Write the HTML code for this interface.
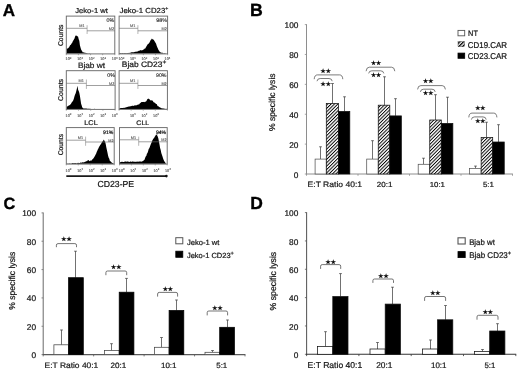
<!DOCTYPE html>
<html lang="en">
<head>
<meta charset="utf-8">
<title>Figure</title>
<style>
html,body{margin:0;padding:0;background:#fff;}
body{width:520px;height:374px;overflow:hidden;}
svg{display:block;font-family:"Liberation Sans", Arial, Helvetica, sans-serif;text-rendering:geometricPrecision;}
</style>
</head>
<body>
<svg width="520" height="374" viewBox="0 0 520 374" style="filter:blur(0.4px)">
<rect x="-5" y="-5" width="530" height="384" fill="#fff"/>
<text x="2.87" y="16.20" font-size="17.01" font-weight="bold" fill="#000" stroke="#000" stroke-width="0.35">A</text>
<text x="250.10" y="15.90" font-size="17.70" font-weight="bold" fill="#000" stroke="#000" stroke-width="0.35">B</text>
<text x="3.45" y="209.40" font-size="16.34" font-weight="bold" fill="#000" stroke="#000" stroke-width="0.35">C</text>
<text x="250.22" y="209.30" font-size="17.47" font-weight="bold" fill="#000" stroke="#000" stroke-width="0.35">D</text>
<polygon points="66.7,53.6 66.7,48.7 67.3,48.4 67.9,48.6 68.5,47.7 69.1,47.3 69.7,46.1 70.3,44.9 70.9,44.7 71.5,43.6 72.1,43.0 72.7,41.6 73.3,40.5 73.9,39.4 74.5,38.4 75.1,36.4 75.7,35.5 76.3,35.6 76.9,36.1 77.5,36.3 78.1,36.7 78.7,39.3 79.3,40.7 79.9,45.2 80.5,47.6 81.1,49.4 81.7,50.6 82.3,51.6 82.9,52.5 83.5,52.3 84.1,52.6 84.7,52.8 85.3,52.8 85.9,53.0 86.5,53.0 87.1,53.2 87.7,53.2 88.3,53.4 88.9,53.3 89.5,53.3 90.1,53.4 90.7,53.4 91.3,53.4 91.9,53.6 92.5,53.6 93.1,53.5 93.7,53.6 94.3,53.6 94.9,53.6 95.5,53.6 96.1,53.6 96.7,53.6 97.3,53.5 97.9,53.6 98.5,53.6 99.1,53.5 99.7,53.6 100.3,53.5 100.9,53.6 101.5,53.6 102.1,53.6 102.7,53.6 103.3,53.6 103.9,53.6 104.5,53.6 105.1,53.6 105.7,53.6 106.3,53.6 106.9,53.6 107.5,53.6 108.1,53.6 108.7,53.6 109.3,53.6 109.9,53.6 110.5,53.6 111.1,53.6 111.7,53.6 112.3,53.6 112.9,53.6 113.5,53.6 114.1,53.6 114.4,53.6" fill="#000"/>
<rect x="66.30" y="16.10" width="48.50" height="37.80" fill="none" stroke="#6a6a6a" stroke-width="0.95"/>
<line x1="66.30" y1="28.30" x2="87.10" y2="28.30" stroke="#6c6c6c" stroke-width="0.65"/>
<line x1="87.10" y1="25.20" x2="87.10" y2="34.00" stroke="#858585" stroke-width="0.6"/>
<line x1="87.10" y1="30.80" x2="114.80" y2="30.80" stroke="#6c6c6c" stroke-width="0.65"/>
<text x="84.50" y="27.30" font-size="3.8" text-anchor="end" fill="#555" stroke="#555" stroke-width="0.1">M1</text>
<text x="114.10" y="30.30" font-size="3.8" text-anchor="end" fill="#555" stroke="#555" stroke-width="0.1">M2</text>
<text x="106.50" y="22.20" font-size="5.32" fill="#222" stroke="#222" stroke-width="0.12">0%</text>
<text x="75.29" y="13.20" font-size="7.61" fill="#161616" stroke="#161616" stroke-width="0.22" transform="matrix(1 0 0 0.94 0 0.792)">Jeko-1 wt</text>
<line x1="66.30" y1="53.90" x2="66.30" y2="55.20" stroke="#777" stroke-width="0.6"/>
<line x1="78.42" y1="53.90" x2="78.42" y2="55.20" stroke="#777" stroke-width="0.6"/>
<line x1="90.55" y1="53.90" x2="90.55" y2="55.20" stroke="#777" stroke-width="0.6"/>
<line x1="102.67" y1="53.90" x2="102.67" y2="55.20" stroke="#777" stroke-width="0.6"/>
<line x1="114.80" y1="53.90" x2="114.80" y2="55.20" stroke="#777" stroke-width="0.6"/>
<text x="68.50" y="60.40" font-size="3.8" text-anchor="middle" fill="#4a4a4a" stroke="#4a4a4a" stroke-width="0.1">10<tspan font-size="2.8" dy="-1.5">0</tspan></text>
<text x="80.05" y="60.40" font-size="3.8" text-anchor="middle" fill="#4a4a4a" stroke="#4a4a4a" stroke-width="0.1">10<tspan font-size="2.8" dy="-1.5">1</tspan></text>
<text x="91.60" y="60.40" font-size="3.8" text-anchor="middle" fill="#4a4a4a" stroke="#4a4a4a" stroke-width="0.1">10<tspan font-size="2.8" dy="-1.5">2</tspan></text>
<text x="103.15" y="60.40" font-size="3.8" text-anchor="middle" fill="#4a4a4a" stroke="#4a4a4a" stroke-width="0.1">10<tspan font-size="2.8" dy="-1.5">3</tspan></text>
<text x="114.70" y="60.40" font-size="3.8" text-anchor="middle" fill="#4a4a4a" stroke="#4a4a4a" stroke-width="0.1">10<tspan font-size="2.8" dy="-1.5">4</tspan></text>
<polygon points="119.5,53.6 119.5,53.0 120.1,53.0 120.7,52.9 121.3,53.2 121.9,52.9 122.5,53.0 123.1,53.0 123.7,53.2 124.3,52.9 124.9,53.0 125.5,53.0 126.1,53.2 126.7,53.1 127.3,53.1 127.9,52.9 128.5,52.9 129.1,52.8 129.7,52.9 130.3,52.8 130.9,52.4 131.5,52.3 132.1,52.3 132.7,52.2 133.3,52.2 133.9,52.2 134.5,51.9 135.1,51.7 135.7,51.8 136.3,51.7 136.9,51.5 137.5,51.6 138.1,51.2 138.7,50.8 139.3,50.7 139.9,50.6 140.5,49.9 141.1,50.5 141.7,50.2 142.3,50.2 142.9,50.0 143.5,49.5 144.1,49.3 144.7,48.5 145.3,48.4 145.9,47.3 146.5,46.3 147.1,45.2 147.7,44.3 148.3,44.0 148.9,43.3 149.5,42.6 150.1,41.3 150.7,40.0 151.3,39.5 151.9,38.5 152.5,39.3 153.1,39.6 153.7,39.7 154.3,40.7 154.9,41.8 155.5,42.8 156.1,43.8 156.7,45.7 157.3,47.3 157.9,48.6 158.5,50.1 159.1,50.7 159.7,51.7 160.3,52.2 160.9,52.4 161.5,52.8 162.1,52.7 162.7,52.8 163.3,53.2 163.9,53.2 164.5,53.1 165.1,53.3 165.7,53.2 166.3,53.4 166.9,53.6 167.2,53.6" fill="#000"/>
<rect x="119.10" y="16.10" width="48.50" height="37.80" fill="none" stroke="#6a6a6a" stroke-width="0.95"/>
<line x1="119.10" y1="28.30" x2="137.90" y2="28.30" stroke="#6c6c6c" stroke-width="0.65"/>
<line x1="137.90" y1="25.20" x2="137.90" y2="34.00" stroke="#858585" stroke-width="0.6"/>
<line x1="137.90" y1="30.80" x2="167.60" y2="30.80" stroke="#6c6c6c" stroke-width="0.65"/>
<text x="135.30" y="27.30" font-size="3.8" text-anchor="end" fill="#555" stroke="#555" stroke-width="0.1">M1</text>
<text x="166.90" y="30.30" font-size="3.8" text-anchor="end" fill="#555" stroke="#555" stroke-width="0.1">M2</text>
<text x="156.14" y="22.20" font-size="5.42" fill="#222" stroke="#222" stroke-width="0.12">98%</text>
<text x="119.58" y="13.20" font-size="7.84" fill="#161616" stroke="#161616" stroke-width="0.22" transform="matrix(1 0 0 0.94 0 0.792)">Jeko-1 CD23<tspan font-size="5.2" dy="-3.1">+</tspan></text>
<line x1="119.10" y1="53.90" x2="119.10" y2="55.20" stroke="#777" stroke-width="0.6"/>
<line x1="131.22" y1="53.90" x2="131.22" y2="55.20" stroke="#777" stroke-width="0.6"/>
<line x1="143.35" y1="53.90" x2="143.35" y2="55.20" stroke="#777" stroke-width="0.6"/>
<line x1="155.47" y1="53.90" x2="155.47" y2="55.20" stroke="#777" stroke-width="0.6"/>
<line x1="167.60" y1="53.90" x2="167.60" y2="55.20" stroke="#777" stroke-width="0.6"/>
<text x="121.30" y="60.40" font-size="3.8" text-anchor="middle" fill="#4a4a4a" stroke="#4a4a4a" stroke-width="0.1">10<tspan font-size="2.8" dy="-1.5">0</tspan></text>
<text x="132.85" y="60.40" font-size="3.8" text-anchor="middle" fill="#4a4a4a" stroke="#4a4a4a" stroke-width="0.1">10<tspan font-size="2.8" dy="-1.5">1</tspan></text>
<text x="144.40" y="60.40" font-size="3.8" text-anchor="middle" fill="#4a4a4a" stroke="#4a4a4a" stroke-width="0.1">10<tspan font-size="2.8" dy="-1.5">2</tspan></text>
<text x="155.95" y="60.40" font-size="3.8" text-anchor="middle" fill="#4a4a4a" stroke="#4a4a4a" stroke-width="0.1">10<tspan font-size="2.8" dy="-1.5">3</tspan></text>
<text x="167.50" y="60.40" font-size="3.8" text-anchor="middle" fill="#4a4a4a" stroke="#4a4a4a" stroke-width="0.1">10<tspan font-size="2.8" dy="-1.5">4</tspan></text>
<polygon points="66.7,109.1 66.7,107.1 67.3,106.6 67.9,106.0 68.5,105.7 69.1,105.2 69.7,105.3 70.3,104.4 70.9,104.0 71.5,102.8 72.1,101.9 72.7,101.3 73.3,100.3 73.9,98.5 74.5,96.2 75.1,94.5 75.7,93.2 76.3,90.9 76.9,88.5 77.5,85.7 78.1,89.7 78.7,90.9 79.3,92.7 79.9,95.7 80.5,99.8 81.1,103.7 81.7,105.6 82.3,107.4 82.9,108.0 83.5,108.6 84.1,108.5 84.7,108.4 85.3,108.5 85.9,108.5 86.5,108.5 87.1,108.7 87.7,108.8 88.3,108.8 88.9,108.7 89.5,108.8 90.1,108.9 90.7,108.7 91.3,108.9 91.9,109.0 92.5,108.9 93.1,109.0 93.7,108.9 94.3,108.8 94.9,109.0 95.5,108.9 96.1,109.1 96.7,109.1 97.3,109.0 97.9,109.0 98.5,109.1 99.1,109.1 99.7,109.0 100.3,108.9 100.9,109.0 101.5,109.1 102.1,109.1 102.7,109.0 103.3,109.1 103.9,109.1 104.5,109.1 105.1,109.1 105.7,109.1 106.3,109.0 106.9,109.0 107.5,109.1 108.1,109.1 108.7,109.1 109.3,109.1 109.9,109.1 110.5,109.1 111.1,109.1 111.7,109.1 112.3,109.1 112.9,109.1 113.5,109.1 114.1,109.1 114.7,109.1 114.7,109.1" fill="#000"/>
<rect x="66.30" y="70.70" width="48.80" height="38.70" fill="none" stroke="#6a6a6a" stroke-width="0.95"/>
<line x1="66.30" y1="83.30" x2="86.40" y2="83.30" stroke="#6c6c6c" stroke-width="0.65"/>
<line x1="86.40" y1="79.50" x2="86.40" y2="88.90" stroke="#858585" stroke-width="0.6"/>
<line x1="86.40" y1="85.50" x2="115.10" y2="85.50" stroke="#6c6c6c" stroke-width="0.65"/>
<text x="83.80" y="82.30" font-size="3.8" text-anchor="end" fill="#555" stroke="#555" stroke-width="0.1">M1</text>
<text x="114.40" y="85.00" font-size="3.8" text-anchor="end" fill="#555" stroke="#555" stroke-width="0.1">M2</text>
<text x="107.30" y="77.30" font-size="5.25" fill="#222" stroke="#222" stroke-width="0.12">0%</text>
<text x="77.92" y="68.00" font-size="8.28" fill="#161616" stroke="#161616" stroke-width="0.22" transform="matrix(1 0 0 0.94 0 4.080)">Bjab wt</text>
<line x1="66.30" y1="109.40" x2="66.30" y2="110.70" stroke="#777" stroke-width="0.6"/>
<line x1="78.50" y1="109.40" x2="78.50" y2="110.70" stroke="#777" stroke-width="0.6"/>
<line x1="90.70" y1="109.40" x2="90.70" y2="110.70" stroke="#777" stroke-width="0.6"/>
<line x1="102.90" y1="109.40" x2="102.90" y2="110.70" stroke="#777" stroke-width="0.6"/>
<line x1="115.10" y1="109.40" x2="115.10" y2="110.70" stroke="#777" stroke-width="0.6"/>
<text x="68.50" y="116.90" font-size="3.8" text-anchor="middle" fill="#4a4a4a" stroke="#4a4a4a" stroke-width="0.1">10<tspan font-size="2.8" dy="-1.5">0</tspan></text>
<text x="80.05" y="116.90" font-size="3.8" text-anchor="middle" fill="#4a4a4a" stroke="#4a4a4a" stroke-width="0.1">10<tspan font-size="2.8" dy="-1.5">1</tspan></text>
<text x="91.60" y="116.90" font-size="3.8" text-anchor="middle" fill="#4a4a4a" stroke="#4a4a4a" stroke-width="0.1">10<tspan font-size="2.8" dy="-1.5">2</tspan></text>
<text x="103.15" y="116.90" font-size="3.8" text-anchor="middle" fill="#4a4a4a" stroke="#4a4a4a" stroke-width="0.1">10<tspan font-size="2.8" dy="-1.5">3</tspan></text>
<text x="114.70" y="116.90" font-size="3.8" text-anchor="middle" fill="#4a4a4a" stroke="#4a4a4a" stroke-width="0.1">10<tspan font-size="2.8" dy="-1.5">4</tspan></text>
<polygon points="119.5,109.1 119.5,108.3 120.1,108.1 120.7,108.3 121.3,108.0 121.9,108.0 122.5,108.0 123.1,108.0 123.7,107.7 124.3,107.9 124.9,107.6 125.5,107.6 126.1,107.5 126.7,107.0 127.3,107.1 127.9,106.7 128.5,106.4 129.1,106.8 129.7,106.2 130.3,106.2 130.9,106.2 131.5,106.0 132.1,105.8 132.7,105.8 133.3,105.8 133.9,105.9 134.5,105.3 135.1,105.6 135.7,105.3 136.3,105.2 136.9,105.3 137.5,104.8 138.1,104.5 138.7,104.4 139.3,104.2 139.9,103.2 140.5,102.9 141.1,102.3 141.7,102.0 142.3,102.1 142.9,101.9 143.5,101.9 144.1,101.8 144.7,102.3 145.3,101.7 145.9,101.4 146.5,100.9 147.1,99.6 147.7,99.1 148.3,98.6 148.9,98.9 149.5,99.3 150.1,100.1 150.7,100.6 151.3,100.3 151.9,100.6 152.5,100.6 153.1,101.6 153.7,102.2 154.3,102.7 154.9,102.5 155.5,103.5 156.1,103.9 156.7,103.9 157.3,105.4 157.9,106.2 158.5,106.2 159.1,107.1 159.7,107.2 160.3,107.6 160.9,108.1 161.5,108.2 162.1,108.2 162.7,108.5 163.3,108.6 163.9,108.6 164.5,108.7 165.1,108.8 165.7,109.0 166.3,108.8 166.9,109.1 167.0,109.1" fill="#000"/>
<rect x="119.10" y="70.70" width="48.30" height="38.70" fill="none" stroke="#6a6a6a" stroke-width="0.95"/>
<line x1="119.10" y1="83.30" x2="137.90" y2="83.30" stroke="#6c6c6c" stroke-width="0.65"/>
<line x1="137.90" y1="79.50" x2="137.90" y2="88.90" stroke="#858585" stroke-width="0.6"/>
<line x1="137.90" y1="85.50" x2="167.40" y2="85.50" stroke="#6c6c6c" stroke-width="0.65"/>
<text x="135.30" y="82.30" font-size="3.8" text-anchor="end" fill="#555" stroke="#555" stroke-width="0.1">M1</text>
<text x="166.70" y="85.00" font-size="3.8" text-anchor="end" fill="#555" stroke="#555" stroke-width="0.1">M2</text>
<text x="156.05" y="77.30" font-size="5.21" fill="#222" stroke="#222" stroke-width="0.12">90%</text>
<text x="121.81" y="67.30" font-size="8.41" fill="#161616" stroke="#161616" stroke-width="0.22" transform="matrix(1 0 0 0.94 0 4.038)">Bjab CD23<tspan font-size="6.6" dy="-3.2">+</tspan></text>
<line x1="119.10" y1="109.40" x2="119.10" y2="110.70" stroke="#777" stroke-width="0.6"/>
<line x1="131.17" y1="109.40" x2="131.17" y2="110.70" stroke="#777" stroke-width="0.6"/>
<line x1="143.25" y1="109.40" x2="143.25" y2="110.70" stroke="#777" stroke-width="0.6"/>
<line x1="155.32" y1="109.40" x2="155.32" y2="110.70" stroke="#777" stroke-width="0.6"/>
<line x1="167.40" y1="109.40" x2="167.40" y2="110.70" stroke="#777" stroke-width="0.6"/>
<text x="132.85" y="116.90" font-size="3.8" text-anchor="middle" fill="#4a4a4a" stroke="#4a4a4a" stroke-width="0.1">10<tspan font-size="2.8" dy="-1.5">1</tspan></text>
<text x="144.40" y="116.90" font-size="3.8" text-anchor="middle" fill="#4a4a4a" stroke="#4a4a4a" stroke-width="0.1">10<tspan font-size="2.8" dy="-1.5">2</tspan></text>
<text x="155.95" y="116.90" font-size="3.8" text-anchor="middle" fill="#4a4a4a" stroke="#4a4a4a" stroke-width="0.1">10<tspan font-size="2.8" dy="-1.5">3</tspan></text>
<polygon points="66.7,163.8 66.7,163.6 67.3,163.4 67.9,163.5 68.5,163.5 69.1,163.4 69.7,163.3 70.3,163.5 70.9,163.4 71.5,163.4 72.1,163.1 72.7,163.1 73.3,163.0 73.9,163.3 74.5,163.1 75.1,163.0 75.7,163.1 76.3,163.2 76.9,163.2 77.5,162.9 78.1,162.8 78.7,163.1 79.3,163.0 79.9,163.0 80.5,162.6 81.1,162.5 81.7,162.7 82.3,162.4 82.9,162.1 83.5,162.4 84.1,162.2 84.7,162.1 85.3,161.5 85.9,161.8 86.5,161.1 87.1,161.3 87.7,160.3 88.3,160.1 88.9,160.6 89.5,161.3 90.1,160.7 90.7,160.5 91.3,160.7 91.9,160.0 92.5,159.2 93.1,158.7 93.7,158.0 94.3,157.0 94.9,155.9 95.5,154.7 96.1,153.7 96.7,151.9 97.3,150.7 97.9,149.2 98.5,148.2 99.1,146.7 99.7,145.9 100.3,144.7 100.9,144.3 101.5,143.1 102.1,141.9 102.7,141.2 103.3,140.6 103.9,139.5 104.5,140.9 105.1,141.7 105.7,144.0 106.3,147.3 106.9,149.9 107.5,152.8 108.1,155.7 108.7,157.8 109.3,158.8 109.9,160.9 110.5,161.3 111.1,161.9 111.7,162.4 112.3,162.9 112.9,163.1 113.5,163.4 113.8,163.8" fill="#000"/>
<rect x="66.30" y="127.60" width="47.90" height="36.50" fill="none" stroke="#6a6a6a" stroke-width="0.95"/>
<line x1="66.30" y1="140.20" x2="85.60" y2="140.20" stroke="#6c6c6c" stroke-width="0.65"/>
<line x1="85.60" y1="136.60" x2="85.60" y2="145.80" stroke="#858585" stroke-width="0.6"/>
<line x1="85.60" y1="142.00" x2="114.20" y2="142.00" stroke="#6c6c6c" stroke-width="0.65"/>
<text x="83.00" y="139.20" font-size="3.8" text-anchor="end" fill="#555" stroke="#555" stroke-width="0.1">M1</text>
<text x="113.50" y="141.50" font-size="3.8" text-anchor="end" fill="#555" stroke="#555" stroke-width="0.1">M2</text>
<text x="103.06" y="134.00" font-size="5.10" fill="#0c0c0c" stroke="#0c0c0c" stroke-width="0.2">91%</text>
<text x="84.29" y="124.90" font-size="7.34" fill="#161616" stroke="#161616" stroke-width="0.22" transform="matrix(1 0 0 0.94 0 7.494)">LCL</text>
<line x1="66.30" y1="164.10" x2="66.30" y2="165.40" stroke="#777" stroke-width="0.6"/>
<line x1="78.27" y1="164.10" x2="78.27" y2="165.40" stroke="#777" stroke-width="0.6"/>
<line x1="90.25" y1="164.10" x2="90.25" y2="165.40" stroke="#777" stroke-width="0.6"/>
<line x1="102.22" y1="164.10" x2="102.22" y2="165.40" stroke="#777" stroke-width="0.6"/>
<line x1="114.20" y1="164.10" x2="114.20" y2="165.40" stroke="#777" stroke-width="0.6"/>
<text x="68.50" y="171.70" font-size="3.8" text-anchor="middle" fill="#4a4a4a" stroke="#4a4a4a" stroke-width="0.1">10<tspan font-size="2.8" dy="-1.5">0</tspan></text>
<text x="80.05" y="171.70" font-size="3.8" text-anchor="middle" fill="#4a4a4a" stroke="#4a4a4a" stroke-width="0.1">10<tspan font-size="2.8" dy="-1.5">1</tspan></text>
<text x="91.60" y="171.70" font-size="3.8" text-anchor="middle" fill="#4a4a4a" stroke="#4a4a4a" stroke-width="0.1">10<tspan font-size="2.8" dy="-1.5">2</tspan></text>
<text x="103.15" y="171.70" font-size="3.8" text-anchor="middle" fill="#4a4a4a" stroke="#4a4a4a" stroke-width="0.1">10<tspan font-size="2.8" dy="-1.5">3</tspan></text>
<text x="114.70" y="171.70" font-size="3.8" text-anchor="middle" fill="#4a4a4a" stroke="#4a4a4a" stroke-width="0.1">10<tspan font-size="2.8" dy="-1.5">4</tspan></text>
<polygon points="119.9,163.8 119.9,162.1 120.5,162.3 121.1,162.0 121.7,161.8 122.3,161.7 122.9,162.0 123.5,162.0 124.1,161.9 124.7,161.6 125.3,161.6 125.9,161.6 126.5,161.7 127.1,161.5 127.7,161.6 128.3,161.5 128.9,161.9 129.5,161.9 130.1,161.6 130.7,161.5 131.3,161.9 131.9,161.6 132.5,161.6 133.1,161.5 133.7,161.7 134.3,161.8 134.9,161.8 135.5,161.7 136.1,161.9 136.7,161.6 137.3,161.7 137.9,161.6 138.5,161.7 139.1,161.5 139.7,161.4 140.3,161.5 140.9,161.5 141.5,161.7 142.1,161.3 142.7,161.2 143.3,160.7 143.9,160.2 144.5,159.7 145.1,157.9 145.7,156.6 146.3,156.0 146.9,153.8 147.5,152.9 148.1,151.3 148.7,149.1 149.3,148.3 149.9,146.8 150.5,145.0 151.1,143.5 151.7,142.3 152.3,140.4 152.9,139.6 153.5,138.6 154.1,137.9 154.7,136.8 155.3,135.9 155.9,134.8 156.5,134.6 157.1,135.3 157.7,136.4 158.3,138.3 158.9,141.2 159.5,144.5 160.1,147.9 160.7,149.9 161.3,152.9 161.9,154.7 162.5,156.6 163.1,158.4 163.7,160.0 164.3,161.3 164.9,162.0 165.5,163.1 166.1,163.7 166.7,163.8 166.8,163.8" fill="#000"/>
<rect x="119.50" y="127.60" width="47.70" height="36.50" fill="none" stroke="#6a6a6a" stroke-width="0.95"/>
<line x1="119.50" y1="139.80" x2="138.70" y2="139.80" stroke="#6c6c6c" stroke-width="0.65"/>
<line x1="138.70" y1="136.60" x2="138.70" y2="145.80" stroke="#858585" stroke-width="0.6"/>
<line x1="138.70" y1="141.80" x2="167.20" y2="141.80" stroke="#6c6c6c" stroke-width="0.65"/>
<text x="136.10" y="138.80" font-size="3.8" text-anchor="end" fill="#555" stroke="#555" stroke-width="0.1">M1</text>
<text x="166.50" y="141.30" font-size="3.8" text-anchor="end" fill="#555" stroke="#555" stroke-width="0.1">M2</text>
<text x="155.96" y="134.00" font-size="5.05" fill="#0c0c0c" stroke="#0c0c0c" stroke-width="0.2">94%</text>
<text x="136.35" y="124.70" font-size="6.97" fill="#161616" stroke="#161616" stroke-width="0.22" transform="matrix(1 0 0 0.94 0 7.482)">CLL</text>
<line x1="119.50" y1="164.10" x2="119.50" y2="165.40" stroke="#777" stroke-width="0.6"/>
<line x1="131.43" y1="164.10" x2="131.43" y2="165.40" stroke="#777" stroke-width="0.6"/>
<line x1="143.35" y1="164.10" x2="143.35" y2="165.40" stroke="#777" stroke-width="0.6"/>
<line x1="155.28" y1="164.10" x2="155.28" y2="165.40" stroke="#777" stroke-width="0.6"/>
<line x1="167.20" y1="164.10" x2="167.20" y2="165.40" stroke="#777" stroke-width="0.6"/>
<text x="121.70" y="171.70" font-size="3.8" text-anchor="middle" fill="#4a4a4a" stroke="#4a4a4a" stroke-width="0.1">10<tspan font-size="2.8" dy="-1.5">0</tspan></text>
<text x="133.25" y="171.70" font-size="3.8" text-anchor="middle" fill="#4a4a4a" stroke="#4a4a4a" stroke-width="0.1">10<tspan font-size="2.8" dy="-1.5">1</tspan></text>
<text x="144.80" y="171.70" font-size="3.8" text-anchor="middle" fill="#4a4a4a" stroke="#4a4a4a" stroke-width="0.1">10<tspan font-size="2.8" dy="-1.5">2</tspan></text>
<text x="156.35" y="171.70" font-size="3.8" text-anchor="middle" fill="#4a4a4a" stroke="#4a4a4a" stroke-width="0.1">10<tspan font-size="2.8" dy="-1.5">3</tspan></text>
<text x="167.90" y="171.70" font-size="3.8" text-anchor="middle" fill="#4a4a4a" stroke="#4a4a4a" stroke-width="0.1">10<tspan font-size="2.8" dy="-1.5">4</tspan></text>
<text transform="translate(62.90,46.04) rotate(-90) scale(1,1.0)" font-size="6.81" fill="#161616" stroke="#161616" stroke-width="0.22">Counts</text>
<text transform="translate(63.40,100.95) rotate(-90) scale(1,1.0)" font-size="6.94" fill="#161616" stroke="#161616" stroke-width="0.22">Counts</text>
<text transform="translate(63.40,155.34) rotate(-90) scale(1,1.0)" font-size="6.75" fill="#161616" stroke="#161616" stroke-width="0.22">Counts</text>
<line x1="66.30" y1="176.10" x2="166.20" y2="176.10" stroke="#1a1a1a" stroke-width="1.6"/>
<circle cx="166.4" cy="176.1" r="1.3" fill="#111"/>
<text x="97.47" y="187.00" font-size="8.69" fill="#161616" stroke="#161616" stroke-width="0.22">CD23-PE</text>
<line x1="306.50" y1="24.20" x2="306.50" y2="174.40" stroke="#8e8e8e" stroke-width="1.0"/>
<line x1="304.80" y1="174.00" x2="306.50" y2="174.00" stroke="#8e8e8e" stroke-width="0.8"/>
<text x="298.40" y="177.75" font-size="8.3" text-anchor="end" fill="#161616" stroke="#161616" stroke-width="0.22" transform="matrix(1 0 0 1.0 0 -0.000)">0</text>
<line x1="304.80" y1="144.12" x2="306.50" y2="144.12" stroke="#8e8e8e" stroke-width="0.8"/>
<text x="298.40" y="147.87" font-size="8.3" text-anchor="end" fill="#161616" stroke="#161616" stroke-width="0.22" transform="matrix(1 0 0 1.0 0 -0.000)">20</text>
<line x1="304.80" y1="114.24" x2="306.50" y2="114.24" stroke="#8e8e8e" stroke-width="0.8"/>
<text x="298.40" y="117.99" font-size="8.3" text-anchor="end" fill="#161616" stroke="#161616" stroke-width="0.22" transform="matrix(1 0 0 1.0 0 -0.000)">40</text>
<line x1="304.80" y1="84.36" x2="306.50" y2="84.36" stroke="#8e8e8e" stroke-width="0.8"/>
<text x="298.40" y="88.11" font-size="8.3" text-anchor="end" fill="#161616" stroke="#161616" stroke-width="0.22" transform="matrix(1 0 0 1.0 0 -0.000)">60</text>
<line x1="304.80" y1="54.48" x2="306.50" y2="54.48" stroke="#8e8e8e" stroke-width="0.8"/>
<text x="298.40" y="58.23" font-size="8.3" text-anchor="end" fill="#161616" stroke="#161616" stroke-width="0.22" transform="matrix(1 0 0 1.0 0 -0.000)">80</text>
<line x1="304.80" y1="24.60" x2="306.50" y2="24.60" stroke="#8e8e8e" stroke-width="0.8"/>
<text x="298.40" y="28.35" font-size="8.3" text-anchor="end" fill="#161616" stroke="#161616" stroke-width="0.22" transform="matrix(1 0 0 1.0 0 -0.000)">100</text>
<line x1="306.10" y1="174.00" x2="512.90" y2="174.00" stroke="#8e8e8e" stroke-width="1.0"/>
<line x1="306.50" y1="174.00" x2="306.50" y2="175.80" stroke="#8e8e8e" stroke-width="0.8"/>
<line x1="358.00" y1="174.00" x2="358.00" y2="175.80" stroke="#8e8e8e" stroke-width="0.8"/>
<line x1="409.50" y1="174.00" x2="409.50" y2="175.80" stroke="#8e8e8e" stroke-width="0.8"/>
<line x1="461.00" y1="174.00" x2="461.00" y2="175.80" stroke="#8e8e8e" stroke-width="0.8"/>
<line x1="512.50" y1="174.00" x2="512.50" y2="175.80" stroke="#8e8e8e" stroke-width="0.8"/>
<text transform="translate(275.30,130.90) rotate(-90) scale(1,1.0)" font-size="8.55" fill="#161616" stroke="#161616" stroke-width="0.22">% specific lysis</text>
<defs><pattern id="hatch" width="2.4" height="2.4" patternUnits="userSpaceOnUse" patternTransform="rotate(-45)"><rect width="2.4" height="2.4" fill="#fff"/><rect width="2.4" height="0.95" fill="#000"/></pattern><pattern id="hatch2" width="2.7" height="2.7" x="0.6" y="0.3" patternUnits="userSpaceOnUse" patternTransform="rotate(-45)"><rect width="2.7" height="2.7" fill="#fff"/><rect width="2.7" height="1.35" fill="#000"/></pattern></defs>
<line x1="320.50" y1="146.60" x2="320.50" y2="159.10" stroke="#4c4c4c" stroke-width="0.8"/>
<line x1="319.00" y1="146.80" x2="322.00" y2="146.80" stroke="#4c4c4c" stroke-width="0.7"/>
<rect x="315.10" y="159.10" width="11.20" height="14.90" fill="#fff" stroke="#555" stroke-width="0.75"/>
<line x1="332.50" y1="83.30" x2="332.50" y2="103.50" stroke="#4c4c4c" stroke-width="0.8"/>
<line x1="331.00" y1="83.50" x2="334.00" y2="83.50" stroke="#4c4c4c" stroke-width="0.7"/>
<rect x="326.30" y="103.50" width="12.30" height="70.50" fill="url(#hatch)" stroke="#111" stroke-width="0.75"/>
<line x1="344.50" y1="96.60" x2="344.50" y2="111.40" stroke="#4c4c4c" stroke-width="0.8"/>
<line x1="343.00" y1="96.80" x2="346.00" y2="96.80" stroke="#4c4c4c" stroke-width="0.7"/>
<rect x="338.60" y="111.40" width="11.20" height="62.60" fill="#000" stroke="#111" stroke-width="0.75"/>
<line x1="372.50" y1="140.50" x2="372.50" y2="159.10" stroke="#4c4c4c" stroke-width="0.8"/>
<line x1="371.00" y1="140.70" x2="374.00" y2="140.70" stroke="#4c4c4c" stroke-width="0.7"/>
<rect x="366.70" y="159.10" width="11.55" height="14.90" fill="#fff" stroke="#555" stroke-width="0.75"/>
<line x1="384.50" y1="76.60" x2="384.50" y2="105.20" stroke="#4c4c4c" stroke-width="0.8"/>
<line x1="383.00" y1="76.80" x2="386.00" y2="76.80" stroke="#4c4c4c" stroke-width="0.7"/>
<rect x="378.25" y="105.20" width="11.55" height="68.80" fill="url(#hatch)" stroke="#111" stroke-width="0.75"/>
<line x1="395.50" y1="98.50" x2="395.50" y2="115.90" stroke="#4c4c4c" stroke-width="0.8"/>
<line x1="394.00" y1="98.70" x2="397.00" y2="98.70" stroke="#4c4c4c" stroke-width="0.7"/>
<rect x="389.80" y="115.90" width="11.55" height="58.10" fill="#000" stroke="#111" stroke-width="0.75"/>
<line x1="423.50" y1="158.00" x2="423.50" y2="164.30" stroke="#4c4c4c" stroke-width="0.8"/>
<line x1="422.00" y1="158.20" x2="425.00" y2="158.20" stroke="#4c4c4c" stroke-width="0.7"/>
<rect x="418.20" y="164.30" width="11.55" height="9.70" fill="#fff" stroke="#555" stroke-width="0.75"/>
<line x1="435.50" y1="94.50" x2="435.50" y2="120.00" stroke="#4c4c4c" stroke-width="0.8"/>
<line x1="434.00" y1="94.70" x2="437.00" y2="94.70" stroke="#4c4c4c" stroke-width="0.7"/>
<rect x="429.75" y="120.00" width="11.55" height="54.00" fill="url(#hatch)" stroke="#111" stroke-width="0.75"/>
<line x1="447.50" y1="97.00" x2="447.50" y2="123.40" stroke="#4c4c4c" stroke-width="0.8"/>
<line x1="446.00" y1="97.20" x2="449.00" y2="97.20" stroke="#4c4c4c" stroke-width="0.7"/>
<rect x="441.30" y="123.40" width="11.55" height="50.60" fill="#000" stroke="#111" stroke-width="0.75"/>
<line x1="475.50" y1="165.90" x2="475.50" y2="168.40" stroke="#4c4c4c" stroke-width="0.8"/>
<line x1="474.00" y1="166.10" x2="477.00" y2="166.10" stroke="#4c4c4c" stroke-width="0.7"/>
<rect x="469.60" y="168.40" width="11.55" height="5.60" fill="#fff" stroke="#555" stroke-width="0.75"/>
<line x1="486.50" y1="122.00" x2="486.50" y2="137.60" stroke="#4c4c4c" stroke-width="0.8"/>
<line x1="485.00" y1="122.20" x2="488.00" y2="122.20" stroke="#4c4c4c" stroke-width="0.7"/>
<rect x="481.15" y="137.60" width="11.55" height="36.40" fill="url(#hatch)" stroke="#111" stroke-width="0.75"/>
<line x1="498.50" y1="124.50" x2="498.50" y2="142.00" stroke="#4c4c4c" stroke-width="0.8"/>
<line x1="497.00" y1="124.70" x2="500.00" y2="124.70" stroke="#4c4c4c" stroke-width="0.7"/>
<rect x="492.70" y="142.00" width="11.55" height="32.00" fill="#000" stroke="#111" stroke-width="0.75"/>
<path d="M314.20,79.20 Q314.50,74.90 317.40,74.90 L339.60,74.90 Q342.50,74.90 342.80,79.20" fill="none" stroke="#444" stroke-width="0.7"/>
<path d="M317.00,81.20 Q317.30,78.50 320.20,78.50 L329.00,78.50 Q331.90,78.50 332.20,81.20" fill="none" stroke="#444" stroke-width="0.7"/>
<path d="M366.10,71.20 Q366.40,67.20 369.30,67.20 L391.60,67.20 Q394.50,67.20 394.80,71.20" fill="none" stroke="#444" stroke-width="0.7"/>
<path d="M368.70,73.40 Q369.00,70.80 371.90,70.80 L380.60,70.80 Q383.50,70.80 383.80,73.40" fill="none" stroke="#444" stroke-width="0.7"/>
<path d="M417.60,89.40 Q417.90,85.60 420.80,85.60 L442.20,85.60 Q445.10,85.60 445.40,89.40" fill="none" stroke="#444" stroke-width="0.7"/>
<path d="M420.40,91.90 Q420.70,89.20 423.60,89.20 L432.00,89.20 Q434.90,89.20 435.20,91.90" fill="none" stroke="#444" stroke-width="0.7"/>
<path d="M468.80,117.40 Q469.10,113.10 472.00,113.10 L493.70,113.10 Q496.60,113.10 496.90,117.40" fill="none" stroke="#444" stroke-width="0.7"/>
<path d="M471.40,119.60 Q471.70,116.90 474.60,116.90 L483.00,116.90 Q485.90,116.90 486.20,119.60" fill="none" stroke="#444" stroke-width="0.7"/>
<text x="325.40" y="73.10" font-family='"DejaVu Sans", "Liberation Sans", sans-serif' font-size="6.25" letter-spacing="-0.5" text-anchor="middle" fill="#0a0a0a" stroke="#0a0a0a" stroke-width="0.2">★★</text>
<text x="325.40" y="85.50" font-family='"DejaVu Sans", "Liberation Sans", sans-serif' font-size="6.25" letter-spacing="-0.5" text-anchor="middle" fill="#0a0a0a" stroke="#0a0a0a" stroke-width="0.2">★★</text>
<text x="375.80" y="65.00" font-family='"DejaVu Sans", "Liberation Sans", sans-serif' font-size="6.25" letter-spacing="-0.5" text-anchor="middle" fill="#0a0a0a" stroke="#0a0a0a" stroke-width="0.2">★★</text>
<text x="375.80" y="77.20" font-family='"DejaVu Sans", "Liberation Sans", sans-serif' font-size="6.25" letter-spacing="-0.5" text-anchor="middle" fill="#0a0a0a" stroke="#0a0a0a" stroke-width="0.2">★★</text>
<text x="427.90" y="82.90" font-family='"DejaVu Sans", "Liberation Sans", sans-serif' font-size="6.25" letter-spacing="-0.5" text-anchor="middle" fill="#0a0a0a" stroke="#0a0a0a" stroke-width="0.2">★★</text>
<text x="427.90" y="95.40" font-family='"DejaVu Sans", "Liberation Sans", sans-serif' font-size="6.25" letter-spacing="-0.5" text-anchor="middle" fill="#0a0a0a" stroke="#0a0a0a" stroke-width="0.2">★★</text>
<text x="480.00" y="110.40" font-family='"DejaVu Sans", "Liberation Sans", sans-serif' font-size="6.25" letter-spacing="-0.5" text-anchor="middle" fill="#0a0a0a" stroke="#0a0a0a" stroke-width="0.2">★★</text>
<text x="480.00" y="123.30" font-family='"DejaVu Sans", "Liberation Sans", sans-serif' font-size="6.25" letter-spacing="-0.5" text-anchor="middle" fill="#0a0a0a" stroke="#0a0a0a" stroke-width="0.2">★★</text>
<text x="307.59" y="187.20" font-size="8.55" fill="#161616" stroke="#161616" stroke-width="0.22" transform="matrix(1 0 0 0.93 0 13.104)">E:T Ratio 40:1</text>
<text x="376.80" y="187.20" font-size="8.01" fill="#161616" stroke="#161616" stroke-width="0.22" transform="matrix(1 0 0 0.93 0 13.104)">20:1</text>
<text x="429.71" y="187.20" font-size="7.85" fill="#161616" stroke="#161616" stroke-width="0.22" transform="matrix(1 0 0 0.93 0 13.104)">10:1</text>
<text x="482.98" y="187.20" font-size="7.91" fill="#161616" stroke="#161616" stroke-width="0.22" transform="matrix(1 0 0 0.93 0 13.104)">5:1</text>
<rect x="458.00" y="30.40" width="6.70" height="5.40" fill="#fff" stroke="#555" stroke-width="0.9"/>
<rect x="458.00" y="41.50" width="6.50" height="5.20" fill="url(#hatch2)" stroke="#333" stroke-width="0.4"/>
<rect x="458.00" y="53.10" width="6.70" height="5.20" fill="#000" stroke="#000" stroke-width="0.8"/>
<text x="468.10" y="36.20" font-size="7.33" fill="#161616" stroke="#161616" stroke-width="0.22" transform="matrix(1 0 0 1.07 0 -2.534)">NT</text>
<text x="467.80" y="47.60" font-size="7.94" fill="#161616" stroke="#161616" stroke-width="0.22" transform="matrix(1 0 0 1.07 0 -3.332)">CD19.CAR</text>
<text x="467.80" y="58.70" font-size="7.94" fill="#161616" stroke="#161616" stroke-width="0.22" transform="matrix(1 0 0 1.07 0 -4.109)">CD23.CAR</text>
<line x1="43.20" y1="212.50" x2="43.20" y2="355.00" stroke="#707070" stroke-width="1.05"/>
<line x1="41.50" y1="354.60" x2="43.20" y2="354.60" stroke="#707070" stroke-width="0.8"/>
<text x="36.10" y="358.05" font-size="8.3" text-anchor="end" fill="#161616" stroke="#161616" stroke-width="0.22" transform="matrix(1 0 0 1.0 0 -0.000)">0</text>
<line x1="41.50" y1="326.26" x2="43.20" y2="326.26" stroke="#707070" stroke-width="0.8"/>
<text x="36.10" y="329.71" font-size="8.3" text-anchor="end" fill="#161616" stroke="#161616" stroke-width="0.22" transform="matrix(1 0 0 1.0 0 -0.000)">20</text>
<line x1="41.50" y1="297.92" x2="43.20" y2="297.92" stroke="#707070" stroke-width="0.8"/>
<text x="36.10" y="301.37" font-size="8.3" text-anchor="end" fill="#161616" stroke="#161616" stroke-width="0.22" transform="matrix(1 0 0 1.0 0 -0.000)">40</text>
<line x1="41.50" y1="269.58" x2="43.20" y2="269.58" stroke="#707070" stroke-width="0.8"/>
<text x="36.10" y="273.03" font-size="8.3" text-anchor="end" fill="#161616" stroke="#161616" stroke-width="0.22" transform="matrix(1 0 0 1.0 0 -0.000)">60</text>
<line x1="41.50" y1="241.24" x2="43.20" y2="241.24" stroke="#707070" stroke-width="0.8"/>
<text x="36.10" y="244.69" font-size="8.3" text-anchor="end" fill="#161616" stroke="#161616" stroke-width="0.22" transform="matrix(1 0 0 1.0 0 -0.000)">80</text>
<line x1="41.50" y1="212.90" x2="43.20" y2="212.90" stroke="#707070" stroke-width="0.8"/>
<text x="36.10" y="216.35" font-size="8.3" text-anchor="end" fill="#161616" stroke="#161616" stroke-width="0.22" transform="matrix(1 0 0 1.0 0 -0.000)">100</text>
<line x1="42.80" y1="354.60" x2="245.40" y2="354.60" stroke="#5a5a5a" stroke-width="1.05"/>
<line x1="43.20" y1="354.60" x2="43.20" y2="356.40" stroke="#5a5a5a" stroke-width="0.8"/>
<line x1="93.65" y1="354.60" x2="93.65" y2="356.40" stroke="#5a5a5a" stroke-width="0.8"/>
<line x1="144.10" y1="354.60" x2="144.10" y2="356.40" stroke="#5a5a5a" stroke-width="0.8"/>
<line x1="194.55" y1="354.60" x2="194.55" y2="356.40" stroke="#5a5a5a" stroke-width="0.8"/>
<line x1="245.00" y1="354.60" x2="245.00" y2="356.40" stroke="#5a5a5a" stroke-width="0.8"/>
<text transform="translate(15.40,309.80) rotate(-90) scale(1,1.0)" font-size="8.63" fill="#161616" stroke="#161616" stroke-width="0.22">% specific lysis</text>
<line x1="61.50" y1="329.80" x2="61.50" y2="344.80" stroke="#4c4c4c" stroke-width="0.8"/>
<line x1="60.00" y1="330.00" x2="63.00" y2="330.00" stroke="#4c4c4c" stroke-width="0.7"/>
<rect x="53.90" y="344.80" width="14.70" height="9.80" fill="#fff" stroke="#444" stroke-width="0.75"/>
<line x1="75.50" y1="251.00" x2="75.50" y2="277.70" stroke="#4c4c4c" stroke-width="0.8"/>
<line x1="74.00" y1="251.20" x2="77.00" y2="251.20" stroke="#4c4c4c" stroke-width="0.7"/>
<rect x="68.60" y="277.70" width="14.70" height="76.90" fill="#000" stroke="#000" stroke-width="0.75"/>
<line x1="111.50" y1="343.50" x2="111.50" y2="350.50" stroke="#4c4c4c" stroke-width="0.8"/>
<line x1="110.00" y1="343.70" x2="113.00" y2="343.70" stroke="#4c4c4c" stroke-width="0.7"/>
<rect x="104.50" y="350.50" width="14.70" height="4.10" fill="#fff" stroke="#444" stroke-width="0.75"/>
<line x1="126.50" y1="278.20" x2="126.50" y2="292.20" stroke="#4c4c4c" stroke-width="0.8"/>
<line x1="125.00" y1="278.40" x2="128.00" y2="278.40" stroke="#4c4c4c" stroke-width="0.7"/>
<rect x="119.20" y="292.20" width="14.70" height="62.40" fill="#000" stroke="#000" stroke-width="0.75"/>
<line x1="161.50" y1="337.30" x2="161.50" y2="347.30" stroke="#4c4c4c" stroke-width="0.8"/>
<line x1="160.00" y1="337.50" x2="163.00" y2="337.50" stroke="#4c4c4c" stroke-width="0.7"/>
<rect x="154.40" y="347.30" width="14.70" height="7.30" fill="#fff" stroke="#444" stroke-width="0.75"/>
<line x1="176.50" y1="299.80" x2="176.50" y2="310.50" stroke="#4c4c4c" stroke-width="0.8"/>
<line x1="175.00" y1="300.00" x2="178.00" y2="300.00" stroke="#4c4c4c" stroke-width="0.7"/>
<rect x="169.10" y="310.50" width="14.70" height="44.10" fill="#000" stroke="#000" stroke-width="0.75"/>
<line x1="212.50" y1="350.30" x2="212.50" y2="352.30" stroke="#4c4c4c" stroke-width="0.8"/>
<line x1="211.00" y1="350.50" x2="214.00" y2="350.50" stroke="#4c4c4c" stroke-width="0.7"/>
<rect x="205.00" y="352.30" width="14.70" height="2.30" fill="#fff" stroke="#444" stroke-width="0.75"/>
<line x1="227.50" y1="319.80" x2="227.50" y2="327.30" stroke="#4c4c4c" stroke-width="0.8"/>
<line x1="226.00" y1="320.00" x2="229.00" y2="320.00" stroke="#4c4c4c" stroke-width="0.7"/>
<rect x="219.70" y="327.30" width="14.70" height="27.30" fill="#000" stroke="#000" stroke-width="0.75"/>
<path d="M56.40,247.20 L56.40,245.20 Q56.40,243.60 58.00,243.60 L74.90,243.60 Q76.50,243.60 76.50,245.20 L76.50,247.20" fill="none" stroke="#3a3a3a" stroke-width="0.7"/>
<text x="66.20" y="240.90" font-family='"DejaVu Sans", "Liberation Sans", sans-serif' font-size="6.25" letter-spacing="-0.5" text-anchor="middle" fill="#0a0a0a" stroke="#0a0a0a" stroke-width="0.2">★★</text>
<path d="M105.90,275.20 L105.90,272.60 Q105.90,271.00 107.50,271.00 L125.10,271.00 Q126.70,271.00 126.70,272.60 L126.70,275.20" fill="none" stroke="#3a3a3a" stroke-width="0.7"/>
<text x="115.90" y="269.30" font-family='"DejaVu Sans", "Liberation Sans", sans-serif' font-size="6.25" letter-spacing="-0.5" text-anchor="middle" fill="#0a0a0a" stroke="#0a0a0a" stroke-width="0.2">★★</text>
<path d="M157.60,296.60 L157.60,294.00 Q157.60,292.40 159.20,292.40 L176.00,292.40 Q177.60,292.40 177.60,294.00 L177.60,296.60" fill="none" stroke="#3a3a3a" stroke-width="0.7"/>
<text x="167.50" y="290.70" font-family='"DejaVu Sans", "Liberation Sans", sans-serif' font-size="6.25" letter-spacing="-0.5" text-anchor="middle" fill="#0a0a0a" stroke="#0a0a0a" stroke-width="0.2">★★</text>
<path d="M207.20,315.40 L207.20,312.60 Q207.20,311.00 208.80,311.00 L226.00,311.00 Q227.60,311.00 227.60,312.60 L227.60,315.40" fill="none" stroke="#3a3a3a" stroke-width="0.7"/>
<text x="217.20" y="309.50" font-family='"DejaVu Sans", "Liberation Sans", sans-serif' font-size="6.25" letter-spacing="-0.5" text-anchor="middle" fill="#0a0a0a" stroke="#0a0a0a" stroke-width="0.2">★★</text>
<text x="44.60" y="367.60" font-size="8.44" fill="#161616" stroke="#161616" stroke-width="0.22" transform="matrix(1 0 0 0.95 0 18.380)">E:T Ratio 40:1</text>
<text x="110.39" y="367.60" font-size="8.17" fill="#161616" stroke="#161616" stroke-width="0.22" transform="matrix(1 0 0 0.95 0 18.380)">20:1</text>
<text x="161.00" y="367.60" font-size="7.96" fill="#161616" stroke="#161616" stroke-width="0.22" transform="matrix(1 0 0 0.95 0 18.380)">10:1</text>
<text x="216.28" y="367.60" font-size="7.91" fill="#161616" stroke="#161616" stroke-width="0.22" transform="matrix(1 0 0 0.95 0 18.380)">5:1</text>
<rect x="175.80" y="237.70" width="7.00" height="6.10" fill="#fff" stroke="#555" stroke-width="1.0"/>
<rect x="175.80" y="251.20" width="7.00" height="6.10" fill="#000" stroke="#000" stroke-width="0.8"/>
<text x="186.99" y="244.90" font-size="7.59" fill="#161616" stroke="#161616" stroke-width="0.22">Jeko-1 wt</text>
<text x="186.99" y="257.90" font-size="7.48" fill="#161616" stroke="#161616" stroke-width="0.22">Jeko-1 CD23<tspan font-size="5.6" dy="-2.6">+</tspan></text>
<line x1="306.60" y1="212.20" x2="306.60" y2="354.70" stroke="#585858" stroke-width="1.05"/>
<line x1="304.90" y1="354.30" x2="306.60" y2="354.30" stroke="#585858" stroke-width="0.8"/>
<text x="298.30" y="358.05" font-size="8.3" text-anchor="end" fill="#161616" stroke="#161616" stroke-width="0.22" transform="matrix(1 0 0 1.0 0 -0.000)">0</text>
<line x1="304.90" y1="325.96" x2="306.60" y2="325.96" stroke="#585858" stroke-width="0.8"/>
<text x="298.30" y="329.71" font-size="8.3" text-anchor="end" fill="#161616" stroke="#161616" stroke-width="0.22" transform="matrix(1 0 0 1.0 0 -0.000)">20</text>
<line x1="304.90" y1="297.62" x2="306.60" y2="297.62" stroke="#585858" stroke-width="0.8"/>
<text x="298.30" y="301.37" font-size="8.3" text-anchor="end" fill="#161616" stroke="#161616" stroke-width="0.22" transform="matrix(1 0 0 1.0 0 -0.000)">40</text>
<line x1="304.90" y1="269.28" x2="306.60" y2="269.28" stroke="#585858" stroke-width="0.8"/>
<text x="298.30" y="273.03" font-size="8.3" text-anchor="end" fill="#161616" stroke="#161616" stroke-width="0.22" transform="matrix(1 0 0 1.0 0 -0.000)">60</text>
<line x1="304.90" y1="240.94" x2="306.60" y2="240.94" stroke="#585858" stroke-width="0.8"/>
<text x="298.30" y="244.69" font-size="8.3" text-anchor="end" fill="#161616" stroke="#161616" stroke-width="0.22" transform="matrix(1 0 0 1.0 0 -0.000)">80</text>
<line x1="304.90" y1="212.60" x2="306.60" y2="212.60" stroke="#585858" stroke-width="0.8"/>
<text x="298.30" y="216.35" font-size="8.3" text-anchor="end" fill="#161616" stroke="#161616" stroke-width="0.22" transform="matrix(1 0 0 1.0 0 -0.000)">100</text>
<line x1="306.20" y1="354.30" x2="516.20" y2="354.30" stroke="#333" stroke-width="1.05"/>
<line x1="306.60" y1="354.30" x2="306.60" y2="356.10" stroke="#333" stroke-width="0.8"/>
<line x1="358.90" y1="354.30" x2="358.90" y2="356.10" stroke="#333" stroke-width="0.8"/>
<line x1="411.20" y1="354.30" x2="411.20" y2="356.10" stroke="#333" stroke-width="0.8"/>
<line x1="463.50" y1="354.30" x2="463.50" y2="356.10" stroke="#333" stroke-width="0.8"/>
<line x1="515.80" y1="354.30" x2="515.80" y2="356.10" stroke="#333" stroke-width="0.8"/>
<text transform="translate(275.90,310.41) rotate(-90) scale(1,1.0)" font-size="8.72" fill="#161616" stroke="#161616" stroke-width="0.22">% specific lysis</text>
<line x1="325.50" y1="331.50" x2="325.50" y2="346.50" stroke="#4c4c4c" stroke-width="0.8"/>
<line x1="324.00" y1="331.70" x2="327.00" y2="331.70" stroke="#4c4c4c" stroke-width="0.7"/>
<rect x="317.60" y="346.50" width="15.20" height="7.80" fill="#fff" stroke="#111" stroke-width="0.75"/>
<line x1="340.50" y1="273.40" x2="340.50" y2="296.60" stroke="#4c4c4c" stroke-width="0.8"/>
<line x1="339.00" y1="273.60" x2="342.00" y2="273.60" stroke="#4c4c4c" stroke-width="0.7"/>
<rect x="332.80" y="296.60" width="15.20" height="57.70" fill="#000" stroke="#111" stroke-width="0.75"/>
<line x1="377.50" y1="342.30" x2="377.50" y2="349.00" stroke="#4c4c4c" stroke-width="0.8"/>
<line x1="376.00" y1="342.50" x2="379.00" y2="342.50" stroke="#4c4c4c" stroke-width="0.7"/>
<rect x="370.00" y="349.00" width="15.20" height="5.30" fill="#fff" stroke="#111" stroke-width="0.75"/>
<line x1="392.50" y1="287.00" x2="392.50" y2="304.10" stroke="#4c4c4c" stroke-width="0.8"/>
<line x1="391.00" y1="287.20" x2="394.00" y2="287.20" stroke="#4c4c4c" stroke-width="0.7"/>
<rect x="385.20" y="304.10" width="15.20" height="50.20" fill="#000" stroke="#111" stroke-width="0.75"/>
<line x1="430.50" y1="339.80" x2="430.50" y2="349.00" stroke="#4c4c4c" stroke-width="0.8"/>
<line x1="429.00" y1="340.00" x2="432.00" y2="340.00" stroke="#4c4c4c" stroke-width="0.7"/>
<rect x="422.40" y="349.00" width="15.20" height="5.30" fill="#fff" stroke="#111" stroke-width="0.75"/>
<line x1="445.50" y1="305.30" x2="445.50" y2="319.80" stroke="#4c4c4c" stroke-width="0.8"/>
<line x1="444.00" y1="305.50" x2="447.00" y2="305.50" stroke="#4c4c4c" stroke-width="0.7"/>
<rect x="437.60" y="319.80" width="15.20" height="34.50" fill="#000" stroke="#111" stroke-width="0.75"/>
<line x1="482.50" y1="349.30" x2="482.50" y2="351.50" stroke="#4c4c4c" stroke-width="0.8"/>
<line x1="481.00" y1="349.50" x2="484.00" y2="349.50" stroke="#4c4c4c" stroke-width="0.7"/>
<rect x="474.50" y="351.50" width="15.20" height="2.80" fill="#fff" stroke="#111" stroke-width="0.75"/>
<line x1="497.50" y1="323.50" x2="497.50" y2="331.00" stroke="#4c4c4c" stroke-width="0.8"/>
<line x1="496.00" y1="323.70" x2="499.00" y2="323.70" stroke="#4c4c4c" stroke-width="0.7"/>
<rect x="489.70" y="331.00" width="15.20" height="23.30" fill="#000" stroke="#111" stroke-width="0.75"/>
<path d="M320.60,268.90 L320.60,266.20 Q320.60,264.60 322.20,264.60 L339.10,264.60 Q340.70,264.60 340.70,266.20 L340.70,268.90" fill="none" stroke="#3a3a3a" stroke-width="0.7"/>
<text x="330.40" y="263.50" font-family='"DejaVu Sans", "Liberation Sans", sans-serif' font-size="6.25" letter-spacing="-0.5" text-anchor="middle" fill="#0a0a0a" stroke="#0a0a0a" stroke-width="0.2">★★</text>
<path d="M372.90,282.90 L372.90,280.60 Q372.90,279.00 374.50,279.00 L391.90,279.00 Q393.50,279.00 393.50,280.60 L393.50,282.90" fill="none" stroke="#3a3a3a" stroke-width="0.7"/>
<text x="383.20" y="277.50" font-family='"DejaVu Sans", "Liberation Sans", sans-serif' font-size="6.25" letter-spacing="-0.5" text-anchor="middle" fill="#0a0a0a" stroke="#0a0a0a" stroke-width="0.2">★★</text>
<path d="M424.60,300.90 L424.60,298.10 Q424.60,296.50 426.20,296.50 L444.00,296.50 Q445.60,296.50 445.60,298.10 L445.60,300.90" fill="none" stroke="#3a3a3a" stroke-width="0.7"/>
<text x="435.00" y="295.10" font-family='"DejaVu Sans", "Liberation Sans", sans-serif' font-size="6.25" letter-spacing="-0.5" text-anchor="middle" fill="#0a0a0a" stroke="#0a0a0a" stroke-width="0.2">★★</text>
<path d="M477.00,319.70 L477.00,316.90 Q477.00,315.30 478.60,315.30 L496.40,315.30 Q498.00,315.30 498.00,316.90 L498.00,319.70" fill="none" stroke="#3a3a3a" stroke-width="0.7"/>
<text x="487.50" y="313.80" font-family='"DejaVu Sans", "Liberation Sans", sans-serif' font-size="6.25" letter-spacing="-0.5" text-anchor="middle" fill="#0a0a0a" stroke="#0a0a0a" stroke-width="0.2">★★</text>
<text x="307.59" y="368.00" font-size="8.59" fill="#161616" stroke="#161616" stroke-width="0.22">E:T Ratio 40:1</text>
<text x="376.18" y="368.00" font-size="8.39" fill="#161616" stroke="#161616" stroke-width="0.22">20:1</text>
<text x="431.00" y="368.00" font-size="7.96" fill="#161616" stroke="#161616" stroke-width="0.22">10:1</text>
<text x="484.49" y="368.00" font-size="7.75" fill="#161616" stroke="#161616" stroke-width="0.22">5:1</text>
<rect x="458.00" y="237.80" width="7.20" height="6.20" fill="#fff" stroke="#555" stroke-width="1.1"/>
<rect x="458.00" y="251.60" width="7.20" height="6.00" fill="#000" stroke="#000" stroke-width="0.8"/>
<text x="469.15" y="245.00" font-size="7.84" fill="#161616" stroke="#161616" stroke-width="0.22" transform="matrix(1 0 0 1.04 0 -9.800)">Bjab wt</text>
<text x="469.14" y="258.10" font-size="8.00" fill="#161616" stroke="#161616" stroke-width="0.22" transform="matrix(1 0 0 1.04 0 -10.324)">Bjab CD23<tspan font-size="5.8" dy="-2.6">+</tspan></text>
</svg>
</body>
</html>
